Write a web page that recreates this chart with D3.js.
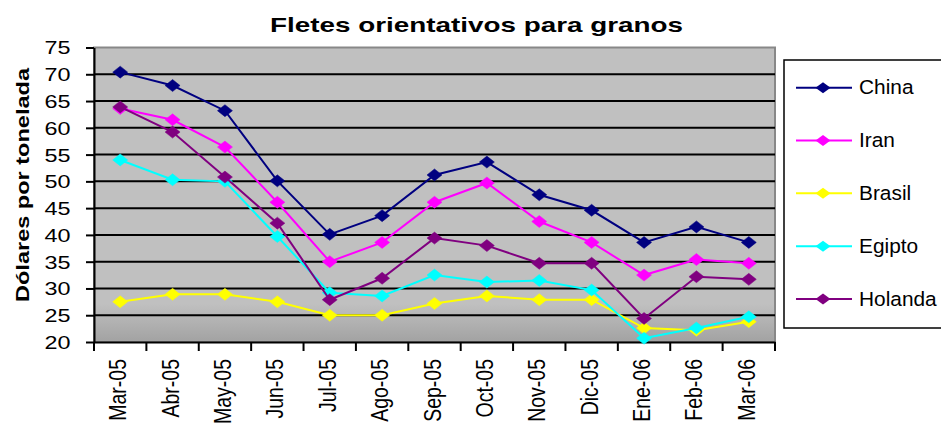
<!DOCTYPE html>
<html><head><meta charset="utf-8">
<script src="https://cdn.jsdelivr.net/npm/d3@7"></script>
<style>html,body{margin:0;padding:0;background:#fff;}svg{display:block;font-family:Arial,"Liberation Sans",sans-serif;}</style>
</head><body>
<script>
const categories = ["Mar-05","Abr-05","May-05","Jun-05","Jul-05","Ago-05","Sep-05","Oct-05","Nov-05","Dic-05","Ene-06","Feb-06","Mar-06"];
const china   = [70.4, 67.9, 63.2, 50.1, 40.1, 43.6, 51.2, 53.6, 47.5, 44.6, 38.6, 41.5, 38.6];
const iran    = [63.6, 61.5, 56.4, 46.1, 35.0, 38.6, 46.1, 49.7, 42.5, 38.6, 32.5, 35.4, 34.7];
const brasil  = [27.5, 28.9, 28.9, 27.5, 25.0, 25.0, 27.2, 28.6, 27.9, 27.9, 22.6, 22.2, 23.8];
const egipto  = [54.0, 50.3, 50.0, 39.7, 29.2, 28.6, 32.5, 31.2, 31.5, 29.7, 20.7, 22.6, 24.7];
const holanda = [63.9, 59.2, 50.8, 42.2, 27.9, 31.9, 39.4, 38.0, 34.7, 34.7, 24.4, 32.2, 31.7];
const seriesNames = ["China","Iran","Brasil","Egipto","Holanda"];
const seriesColors = ["#000080","#FF00FF","#FFFF00","#00FFFF","#800080"];
const yTicks = [20,25,30,35,40,45,50,55,60,65,70,75];
const title = "Fletes orientativos para granos";
const yTitle = "Dólares por tonelada";

const series = [china, iran, brasil, egipto, holanda].map((v,i)=>({name:seriesNames[i], color:seriesColors[i], values:v}));

const W = 941, H = 433;
const L = 94, R = 775, T = 47.5, B = 342;
const svg = d3.select("body").append("svg").attr("width",W).attr("height",H);

const x = d3.scaleBand().domain(categories).range([L,R]);
const y = d3.scaleLinear().domain([20,75]).range([B,T]);

const defs = svg.append("defs");
const grad = defs.append("linearGradient").attr("id","bg").attr("x1",0).attr("y1",0).attr("x2",0).attr("y2",1);
grad.append("stop").attr("offset","0%").attr("stop-color","#c0c0c0");
grad.append("stop").attr("offset","87%").attr("stop-color","#c0c0c0");
grad.append("stop").attr("offset","100%").attr("stop-color","#a2a2a2");

// plot background
svg.append("rect").attr("x",L).attr("y",T).attr("width",R-L).attr("height",B-T)
  .attr("fill","url(#bg)").attr("stroke","#888").attr("stroke-width",2);

// gridlines
svg.append("g").selectAll("line").data(yTicks.filter(d=>d>20 && d<75)).join("line")
  .attr("x1",L).attr("x2",R).attr("y1",d=>y(d)).attr("y2",d=>y(d))
  .attr("stroke","#000").attr("stroke-width",2);

// y axis
const yAxis = svg.append("g").attr("transform",`translate(${L},0)`)
  .call(d3.axisLeft(y).tickValues(yTicks).tickSize(8).tickSizeOuter(0).tickFormat(d3.format("d")));
yAxis.select(".domain").attr("stroke","#000").attr("stroke-width",2);
yAxis.selectAll(".tick line").attr("stroke","#000").attr("stroke-width",2);
yAxis.selectAll(".tick text").attr("x",null).attr("dy",null)
  .attr("font-size",18).attr("fill","#000").attr("text-anchor","end")
  .attr("dominant-baseline","central")
  .attr("transform","translate(-23.5,0) scale(1.3,1)");

// x axis
const xAxis = svg.append("g").attr("transform",`translate(0,${B})`)
  .call(d3.axisBottom(x).tickSize(0).tickSizeOuter(0));
xAxis.select(".domain").attr("stroke","#000").attr("stroke-width",2);
// boundary ticks
svg.append("g").selectAll("line").data(d3.range(categories.length+1)).join("line")
  .attr("x1",i=>L + i*x.step()).attr("x2",i=>L + i*x.step())
  .attr("y1",B).attr("y2",B+9).attr("stroke","#000").attr("stroke-width",2);
xAxis.selectAll(".tick text").attr("y",null).attr("dy",null)
  .attr("font-size",19.5).attr("fill","#000").attr("text-anchor","end")
  .attr("transform",`translate(6,17) scale(1.25,1) rotate(-90)`);

// lines & markers
const line = d3.line().x((d,i)=>x(categories[i])+x.bandwidth()/2).y(d=>y(d));
const diamond = (hw,hh)=>`M0,${-hh}L${hw},0L0,${hh}L${-hw},0Z`;
series.forEach(s=>{
  const g = svg.append("g");
  g.append("path").datum(s.values).attr("d",line).attr("fill","none")
    .attr("stroke",s.color).attr("stroke-width",2);
  g.selectAll("path.m").data(s.values).join("path").attr("class","m")
    .attr("d",diamond(7.5,6))
    .attr("transform",(d,i)=>`translate(${x(categories[i])+x.bandwidth()/2},${y(d)})`)
    .attr("fill",s.color).attr("stroke",s.color).attr("stroke-width",0.5);
});

// title
svg.append("text").attr("x",270).attr("y",32).attr("font-size",21).attr("font-weight","bold")
  .attr("textLength",413).attr("lengthAdjust","spacingAndGlyphs").attr("fill","#000").text(title);

// y title
svg.append("text").attr("transform","translate(29,185) rotate(-90)")
  .attr("text-anchor","middle").attr("font-size",19).attr("font-weight","bold")
  .attr("textLength",234).attr("lengthAdjust","spacingAndGlyphs").attr("fill","#000").text(yTitle);

// legend
const lg = svg.append("g");
lg.append("rect").attr("x",784).attr("y",60).attr("width",170).attr("height",268)
  .attr("fill","#fff").attr("stroke","#000").attr("stroke-width",1.5);
const rowY = d3.scalePoint().domain(seriesNames).range([87.7,299]);
series.forEach(s=>{
  const cy = rowY(s.name);
  lg.append("line").attr("x1",796).attr("x2",852).attr("y1",cy).attr("y2",cy)
    .attr("stroke",s.color).attr("stroke-width",2);
  lg.append("path").attr("d",diamond(7.5,5.5)).attr("transform",`translate(823,${cy})`)
    .attr("fill",s.color);
  lg.append("text").attr("transform",`translate(859,${cy}) scale(1.07,1)`)
    .attr("dominant-baseline","central").attr("font-size",19.5).attr("fill","#000").text(s.name);
});
</script>
</body></html>
